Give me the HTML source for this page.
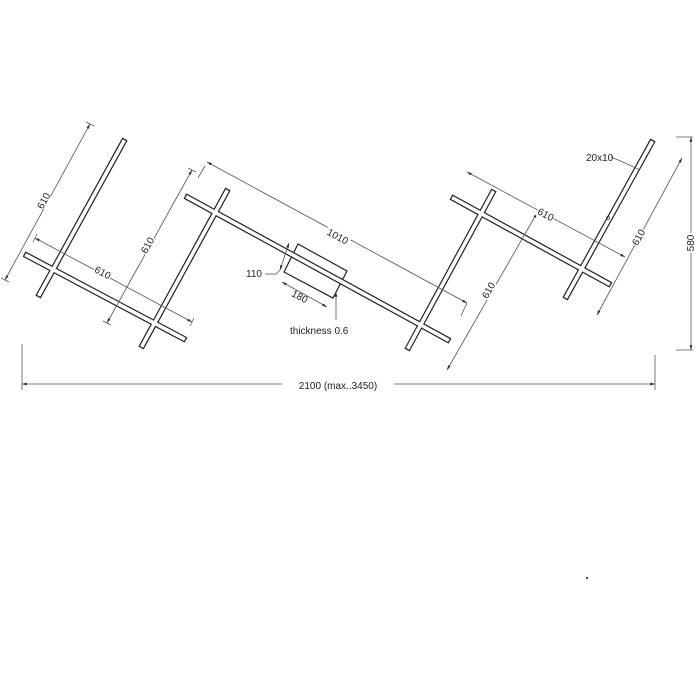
<!DOCTYPE html>
<html><head><meta charset="utf-8"><style>
html,body{margin:0;padding:0;background:#fff;}
svg{display:block}
text{font-family:"Liberation Sans",sans-serif;font-size:10px;fill:#222}
</style></head><body>
<svg width="700" height="700" viewBox="0 0 700 700" xmlns="http://www.w3.org/2000/svg">
<defs>
<marker id="a" viewBox="0 0 10 10" refX="10" refY="5" markerWidth="6" markerHeight="6" orient="auto-start-reverse"><path d="M0,2 L10,5 L0,8z" fill="#333"/></marker>
</defs>
<polygon points="298,244 347,271 333,298 284,272" fill="#fff" stroke="#222" stroke-width="1.2"/>
<g stroke-linecap="butt">
<g stroke="#222" stroke-width="6">
<line x1="125" y1="139" x2="38" y2="297"/>
<line x1="24" y1="254" x2="186" y2="340"/>
<line x1="228" y1="189" x2="141" y2="348"/>
<line x1="185" y1="196" x2="450" y2="341"/>
<line x1="494" y1="190" x2="407" y2="350"/>
<line x1="451" y1="197" x2="611" y2="285"/>
<line x1="653" y1="140" x2="565" y2="299"/>
</g>
<g stroke="#fff" stroke-width="3.6">
<line x1="124.4" y1="140.1" x2="38.6" y2="295.9"/>
<line x1="25.1" y1="254.6" x2="184.9" y2="339.4"/>
<line x1="227.4" y1="190.1" x2="141.6" y2="346.9"/>
<line x1="186.1" y1="196.6" x2="448.9" y2="340.4"/>
<line x1="493.4" y1="191.1" x2="407.6" y2="348.9"/>
<line x1="452.1" y1="197.6" x2="609.9" y2="284.4"/>
<line x1="652.4" y1="141.1" x2="565.6" y2="297.9"/>
</g>
</g>
<g stroke="#555" stroke-width="0.8" fill="none">
<line x1="90" y1="124" x2="5" y2="280" marker-start="url(#a)" marker-end="url(#a)"/>
<line x1="86" y1="122" x2="94" y2="126"/><line x1="1" y1="278" x2="9" y2="282"/>
<line x1="35" y1="238" x2="192" y2="322" marker-start="url(#a)" marker-end="url(#a)"/>
<line x1="33" y1="242" x2="37" y2="234"/><line x1="190" y1="326" x2="194" y2="318"/>
<line x1="192" y1="170" x2="107" y2="323" marker-start="url(#a)" marker-end="url(#a)"/>
<line x1="188" y1="168" x2="196" y2="172"/><line x1="103" y1="321" x2="111" y2="325"/>
<line x1="207" y1="162" x2="467" y2="303" marker-start="url(#a)" marker-end="url(#a)"/>
<line x1="205" y1="166" x2="198" y2="178"/><line x1="467" y1="303" x2="461" y2="316"/>
<line x1="537" y1="213" x2="447" y2="370" marker-start="url(#a)" marker-end="url(#a)"/>
<line x1="467" y1="172" x2="625" y2="257" marker-start="url(#a)" marker-end="url(#a)"/>
<line x1="682" y1="158" x2="597" y2="315" marker-start="url(#a)" marker-end="url(#a)"/>
<line x1="691" y1="137" x2="691" y2="350" marker-start="url(#a)" marker-end="url(#a)"/>
<line x1="676" y1="137" x2="693" y2="137"/><line x1="676" y1="350" x2="693" y2="350"/>
<line x1="22" y1="384" x2="655" y2="384" marker-start="url(#a)" marker-end="url(#a)"/>
<line x1="22" y1="344" x2="22" y2="390"/><line x1="655" y1="355" x2="655" y2="390"/>
<line x1="289" y1="243" x2="280" y2="270" marker-start="url(#a)" marker-end="url(#a)"/>
<line x1="280" y1="270" x2="276" y2="274"/><line x1="276" y1="274" x2="265" y2="274"/>
<line x1="282" y1="282" x2="327" y2="307" marker-start="url(#a)" marker-end="url(#a)"/>
<line x1="336" y1="292" x2="336" y2="320" marker-start="url(#a)"/>
<line x1="611" y1="157" x2="625" y2="163"/><line x1="625" y1="163" x2="640" y2="170"/>
</g>
<circle cx="608" cy="218" r="1.5" fill="none" stroke="#333" stroke-width="0.8"/>
<rect x="586" y="577" width="2" height="2" fill="#444"/>
<g>
<rect x="37" y="192" width="14" height="18" fill="#fff" transform="rotate(-61 44 201)"/>
<text x="44" y="204" text-anchor="middle" transform="rotate(-61 44 201)">610</text>
<rect x="94" y="266" width="18" height="12" fill="#fff" transform="rotate(28 103 272)"/>
<text x="103" y="276" text-anchor="middle" transform="rotate(28 103 272)">610</text>
<rect x="138" y="238" width="18" height="12" fill="#fff" transform="rotate(-61 147 245)"/>
<text x="147" y="249" text-anchor="middle" transform="rotate(-61 147 245)">610</text>
<rect x="325" y="230" width="26" height="12" fill="#fff" transform="rotate(28 338 236)"/>
<text x="338" y="240" text-anchor="middle" transform="rotate(28 338 236)">1010</text>
<rect x="479" y="284" width="18" height="12" fill="#fff" transform="rotate(-61 488 290)"/>
<text x="488" y="294" text-anchor="middle" transform="rotate(-61 488 290)">610</text>
<rect x="537" y="208" width="18" height="12" fill="#fff" transform="rotate(28 546 214)"/>
<text x="546" y="218" text-anchor="middle" transform="rotate(28 546 214)">610</text>
<rect x="629" y="231" width="18" height="12" fill="#fff" transform="rotate(-61 638 237)"/>
<text x="638" y="241" text-anchor="middle" transform="rotate(-61 638 237)">610</text>
<rect x="681" y="233" width="18" height="20" fill="#fff"/>
<text x="694" y="243" text-anchor="middle" transform="rotate(-90 694 243)">580</text>
<rect x="282" y="379" width="112" height="12" fill="#fff"/>
<text x="338" y="389" text-anchor="middle">2100 (max..3450)</text>
<text x="246" y="277">110</text>
<text x="300" y="300" text-anchor="middle" transform="rotate(28 300 296)">180</text>
<text x="290" y="334">thickness 0.6</text>
<text x="586" y="161">20x10</text>
</g>
</svg>
</body></html>
